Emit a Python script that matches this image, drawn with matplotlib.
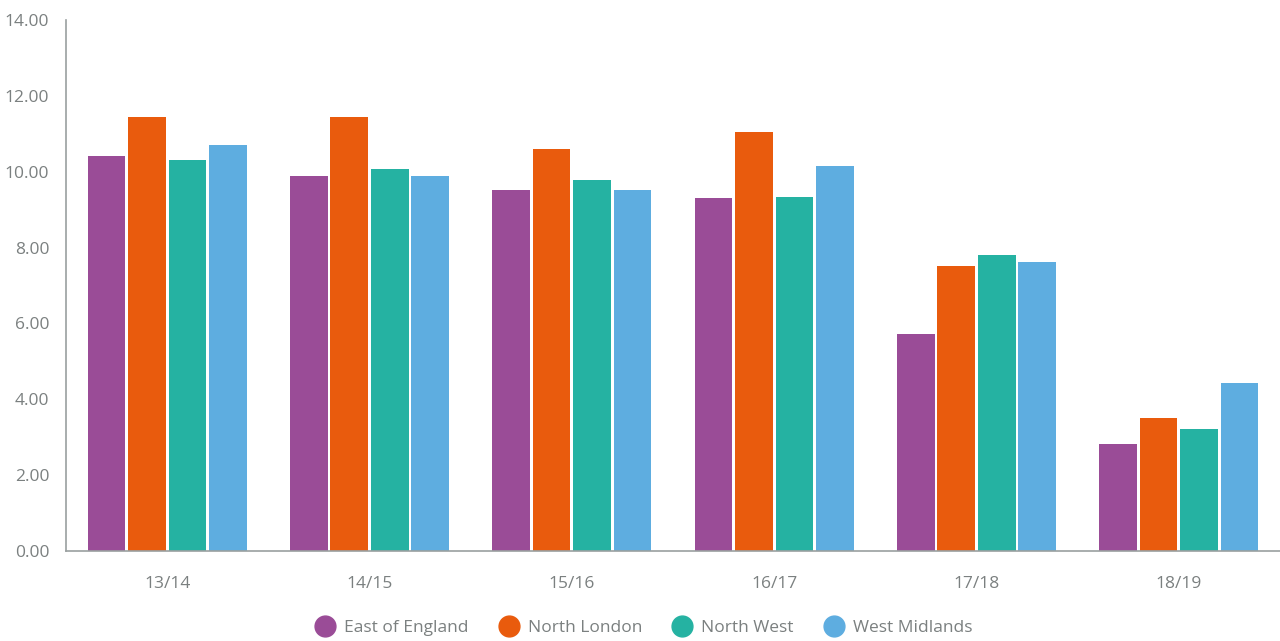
import matplotlib.pyplot as plt
import numpy as np
from matplotlib.lines import Line2D

years = ['13/14', '14/15', '15/16', '16/17', '17/18', '18/19']
regions = ['East of England', 'North London', 'North West', 'West Midlands']
east_england = [10.41, 9.89, 9.52, 9.31, 5.72, 2.82]
north_london = [11.44, 11.44, 10.60, 11.05, 7.51, 3.51]
north_west = [10.31, 10.07, 9.78, 9.33, 7.80, 3.22]
west_midlands = [10.70, 9.89, 9.52, 10.15, 7.62, 4.43]
colors = ['#9a4c97', '#e95b0d', '#25b2a2', '#5eade0']

series = [east_england, north_london, north_west, west_midlands]
text_col = '#7b8080'

plt.rcParams['font.family'] = ['Open Sans', 'DejaVu Sans']

fig = plt.figure(figsize=(12.8, 6.41), dpi=100)
ax = fig.add_axes([0.0516, 0.1404, 0.9484, 0.8284])

x = np.arange(len(years))
w = 0.2
for i, (vals, c) in enumerate(zip(series, colors)):
    ax.bar(x + (i - 1.5) * w, vals, width=w * 0.93, color=c, label=regions[i])

ax.set_xlim(-0.5, 5.5)
ax.set_ylim(0, 14)
ax.set_yticks(np.arange(0, 15, 2))
ax.set_yticklabels([f'{v:.2f}' for v in np.arange(0, 15, 2)])
ax.set_xticks(x)
ax.set_xticklabels(years)
ax.tick_params(length=0, labelsize=12.5, colors=text_col)
ax.tick_params(axis='x', pad=18)
ax.tick_params(axis='y', pad=12)
for s in ['top', 'right']:
    ax.spines[s].set_visible(False)
for s in ['left', 'bottom']:
    ax.spines[s].set_color('#9aa0a0')
    ax.spines[s].set_linewidth(1.2)

handles = [Line2D([], [], marker='o', ls='', markersize=15, color=c) for c in colors]
fig.legend(handles, regions, loc='lower center', bbox_to_anchor=(0.5, -0.016), ncol=4,
           frameon=False, fontsize=12.5, labelcolor=text_col, handletextpad=0.1,
           columnspacing=1.3)

fig.savefig('out.png', dpi=100)
